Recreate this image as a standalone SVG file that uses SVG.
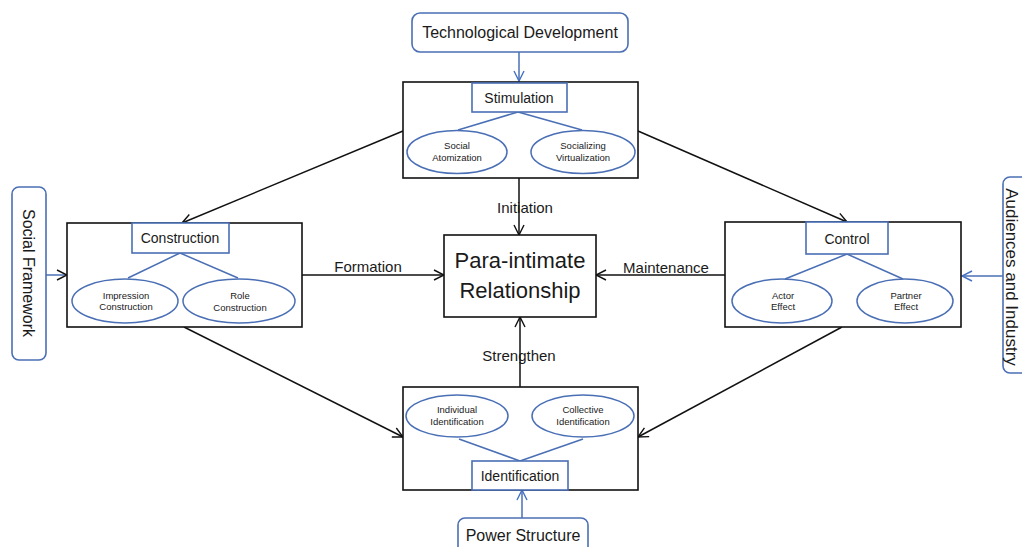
<svg xmlns="http://www.w3.org/2000/svg" width="1022" height="547" viewBox="0 0 1022 547">
<defs>
<marker id="ab" viewBox="0 0 12 12" refX="11" refY="6" markerWidth="12" markerHeight="12" markerUnits="userSpaceOnUse" orient="auto"><path d="M1,1 L11,6 L1,11" fill="none" stroke="#111" stroke-width="1.4"/></marker>
<marker id="au" viewBox="0 0 12 12" refX="11" refY="6" markerWidth="12" markerHeight="12" markerUnits="userSpaceOnUse" orient="auto"><path d="M1,1 L11,6 L1,11" fill="none" stroke="#4472C4" stroke-width="1.4"/></marker>
</defs>
<style>
.outer{fill:#fff;stroke:#111;stroke-width:1.6}
.lab{fill:#fff;stroke:#4a6fb5;stroke-width:1.6}
.ell{fill:#fff;stroke:#4a6fb5;stroke-width:1.5}
.ext{fill:#fff;stroke:#4a6fb5;stroke-width:1.6}
.bl{stroke:#4a6fb5;stroke-width:1.5;fill:none}
.k{stroke:#111;stroke-width:1.5;fill:none}
text{font-family:"Liberation Sans",Arial,sans-serif;fill:#1a1a1a;text-anchor:middle}
.t16{font-size:16px}
.t17{font-size:17px}
.t14{font-size:14px}
.t10{font-size:9.5px}
.t22{font-size:22px}
.t15{font-size:15px}
</style>
<rect width="1022" height="547" fill="#fff"/>
<g id="connectors">
<line class="bl" x1="519" y1="52" x2="519" y2="81" marker-end="url(#au)"/>
<line class="bl" x1="46" y1="275" x2="67" y2="275" marker-end="url(#ab)"/>
<line class="bl" x1="1003" y1="276" x2="962" y2="276" marker-end="url(#au)"/>
<line class="bl" x1="522" y1="518" x2="522" y2="490" marker-end="url(#au)"/>
<line class="k" x1="519" y1="178" x2="519" y2="235" marker-end="url(#ab)"/>
<line class="k" x1="520" y1="387" x2="520" y2="317" marker-end="url(#ab)"/>
<line class="k" x1="302" y1="275" x2="444" y2="275" marker-end="url(#ab)"/>
<line class="k" x1="725" y1="275" x2="596" y2="275" marker-end="url(#ab)"/>
<line class="k" x1="403" y1="131" x2="182" y2="223" marker-end="url(#ab)"/>
<line class="k" x1="638" y1="131" x2="847" y2="222" marker-end="url(#ab)"/>
<line class="k" x1="184" y1="327" x2="403" y2="437" marker-end="url(#ab)"/>
<line class="k" x1="842" y1="327" x2="638" y2="437" marker-end="url(#ab)"/>
<text class="t15" x="525" y="213">Initiation</text>
<text class="t15" x="519" y="361">Strengthen</text>
<text class="t15" x="368" y="272">Formation</text>
<text class="t15" x="666" y="273">Maintenance</text>
</g>
<g id="tech">
<rect class="ext" x="412" y="13" width="216" height="39" rx="8"/>
<text class="t16" x="520" y="38">Technological Development</text>
</g>
<g id="social-framework">
<rect class="ext" x="12" y="187" width="34" height="173" rx="7"/>
<text class="t16" transform="translate(23,273) rotate(90)">Social Framework</text>
</g>
<g id="audiences">
<rect class="ext" x="1003" y="177" width="40" height="196" rx="7"/>
<text class="t17" transform="translate(1006,277) rotate(90)">Audiences and Industry</text>
</g>
<g id="power">
<rect class="ext" x="458" y="518" width="130" height="40" rx="7"/>
<text class="t16" x="523" y="541">Power Structure</text>
</g>
<g id="center">
<rect class="outer" x="444" y="235" width="152" height="82"/>
<text class="t22" x="520" y="268">Para-intimate</text>
<text class="t22" x="520" y="298">Relationship</text>
</g>
<g id="stimulation">
<rect class="outer" x="403" y="82" width="235" height="96"/>
<line class="bl" x1="518" y1="112" x2="458" y2="130"/>
<line class="bl" x1="518" y1="112" x2="582" y2="130"/>
<rect class="lab" x="472" y="83" width="95" height="29"/>
<text class="t14" x="519" y="103">Stimulation</text>
<ellipse class="ell" cx="457" cy="152" rx="50" ry="21.5"/>
<text class="t10" x="457" y="149">Social</text>
<text class="t10" x="457" y="161">Atomization</text>
<ellipse class="ell" cx="583" cy="152" rx="52" ry="21.5"/>
<text class="t10" x="583" y="149">Socializing</text>
<text class="t10" x="583" y="161">Virtualization</text>
</g>
<g id="construction">
<rect class="outer" x="67" y="223" width="235" height="104"/>
<line class="bl" x1="180" y1="253" x2="128" y2="278"/>
<line class="bl" x1="180" y1="253" x2="238" y2="278"/>
<rect class="lab" x="132" y="223" width="97" height="30"/>
<text class="t14" x="180" y="243">Construction</text>
<ellipse class="ell" cx="125" cy="301" rx="53" ry="22"/>
<text class="t10" x="126" y="299">Impression</text>
<text class="t10" x="126" y="310">Construction</text>
<ellipse class="ell" cx="239" cy="301" rx="56" ry="22"/>
<text class="t10" x="240" y="299">Role</text>
<text class="t10" x="240" y="311">Construction</text>
</g>
<g id="control">
<rect class="outer" x="725" y="222" width="236" height="105"/>
<line class="bl" x1="847" y1="254" x2="785" y2="279"/>
<line class="bl" x1="847" y1="254" x2="903" y2="279"/>
<rect class="lab" x="806" y="222" width="82" height="32"/>
<text class="t14" x="847" y="244">Control</text>
<ellipse class="ell" cx="782" cy="301" rx="50" ry="22"/>
<text class="t10" x="783" y="299">Actor</text>
<text class="t10" x="783" y="310">Effect</text>
<ellipse class="ell" cx="905" cy="301" rx="48" ry="22"/>
<text class="t10" x="906" y="299">Partner</text>
<text class="t10" x="906" y="310">Effect</text>
</g>
<g id="identification">
<rect class="outer" x="403" y="387" width="235" height="103"/>
<line class="bl" x1="520" y1="461" x2="459" y2="439"/>
<line class="bl" x1="520" y1="461" x2="583" y2="439"/>
<rect class="lab" x="472" y="461" width="96" height="29"/>
<text class="t14" x="520" y="481">Identification</text>
<ellipse class="ell" cx="457" cy="416" rx="51" ry="21"/>
<text class="t10" x="457" y="413">Individual</text>
<text class="t10" x="457" y="425">Identification</text>
<ellipse class="ell" cx="583" cy="416" rx="51" ry="21"/>
<text class="t10" x="583" y="413">Collective</text>
<text class="t10" x="583" y="425">Identification</text>
</g>
</svg>
